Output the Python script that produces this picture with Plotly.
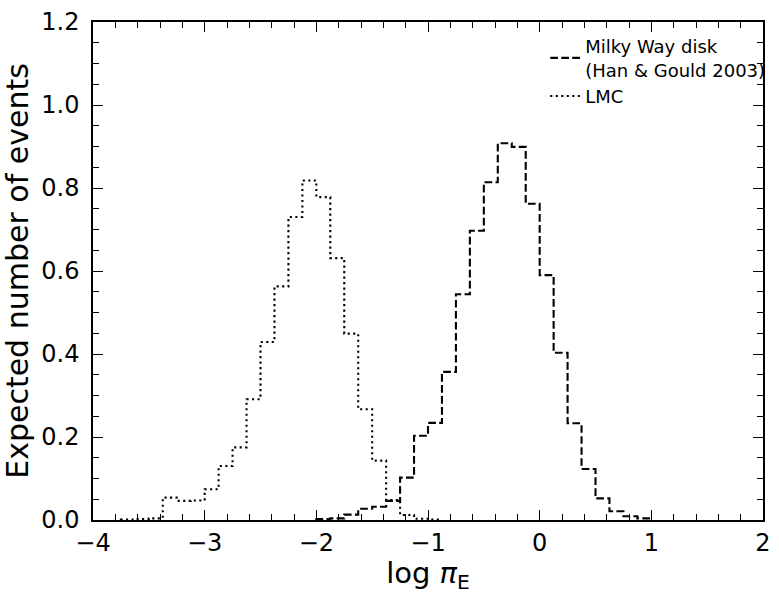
import plotly.graph_objects as go

# bin edges (log pi_E), width 0.125
lmc_edges = [-3.75 + 0.125 * i for i in range(24)]  # -3.75 ... -0.875
lmc_values = [0.001, 0.002, 0.004,
              0.054, 0.046, 0.047, 0.074, 0.130, 0.175, 0.291, 0.429,
              0.563, 0.730, 0.818, 0.778, 0.631, 0.449, 0.267, 0.143,
              0.048, 0.012, 0.003, 0.001]

mw_edges = [-2.0 + 0.125 * i for i in range(25)]  # -2.0 ... 1.0
mw_values = [0.002, 0.004, 0.013, 0.027, 0.032, 0.046, 0.102, 0.203,
             0.234, 0.357, 0.544, 0.697, 0.814, 0.908, 0.899, 0.762,
             0.590, 0.403, 0.233, 0.123, 0.052, 0.021, 0.009, 0.004]


def step_outline(edges, values):
    xs = [edges[0]] + list(edges) + [edges[-1]]
    ys = [0] + list(values) + [values[-1]] + [0]
    return xs, ys


fig = go.Figure()
x1, y1 = step_outline(mw_edges, mw_values)
fig.add_trace(go.Scatter(
    x=x1, y=y1, mode="lines", line_shape="hv",
    line=dict(color="black", width=2.1, dash="7.7px,3.3px"),
    name="Milky Way disk<br>(Han & Gould 2003)", legendgroup="mw"))
x2, y2 = step_outline(lmc_edges, lmc_values)
fig.add_trace(go.Scatter(
    x=x2, y=y2, mode="lines", line_shape="hv",
    line=dict(color="black", width=2.1, dash="2.1px,3.4px"),
    name="LMC", legendgroup="lmc"))

axis_common = dict(
    showline=True, linecolor="black", linewidth=1.5, mirror="allticks",
    ticks="inside", ticklen=10, tickwidth=1.3, tickcolor="black",
    showgrid=False, zeroline=False,
    tickfont=dict(family="DejaVu Sans", size=24, color="black"),
)

fig.update_xaxes(
    range=[-4, 2], tick0=0, dtick=1, ticklabelstandoff=0,
    minor=dict(ticks="inside", dtick=0.2, ticklen=6, tickwidth=1.1, tickcolor="black"),
    title=dict(text="log <i>π</i><sub>E</sub>", font=dict(family="DejaVu Sans", size=29, color="black"), standoff=4),
    **axis_common)
fig.update_yaxes(
    range=[0, 1.2], tick0=0, dtick=0.2, tickformat=".1f", ticklabelstandoff=7,
    minor=dict(ticks="inside", dtick=0.05, ticklen=6, tickwidth=1.1, tickcolor="black"),
    title=dict(text="Expected number of events", font=dict(family="DejaVu Sans", size=30, color="black"), standoff=4),
    **axis_common)

fig.update_layout(
    width=779, height=594,
    margin=dict(l=93, r=8, t=16, b=74),
    plot_bgcolor="white", paper_bgcolor="white",
    font=dict(family="DejaVu Sans", color="black"),
    legend=dict(x=0.675, y=0.988, xanchor="left", yanchor="top",
                bgcolor="rgba(0,0,0,0)", borderwidth=0,
                font=dict(family="DejaVu Sans", size=18, color="black"),
                itemwidth=30, traceorder="grouped", tracegroupgap=0),
    showlegend=True,
)

fig.write_html("out.html")
